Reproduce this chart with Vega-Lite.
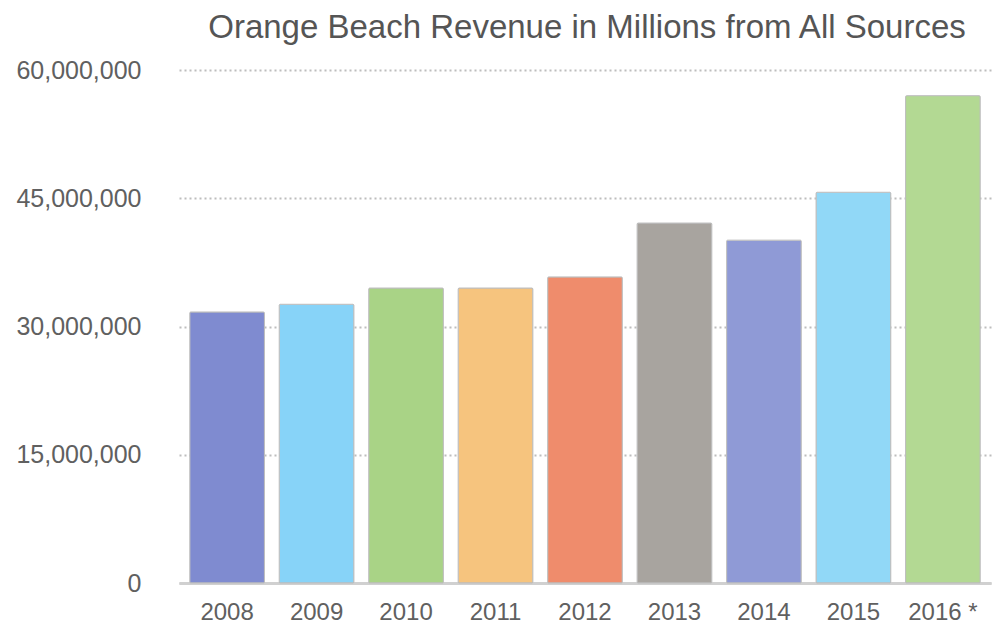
{
  "$schema": "https://vega.github.io/schema/vega-lite/v6.json",
  "width": 812,
  "height": 513,
  "autosize": {"type": "none"},
  "padding": {"left": 179, "top": 70, "right": 2, "bottom": 44},
  "background": "white",
  "title": {
    "text": "Orange Beach Revenue in Millions from All Sources",
    "font": "Liberation Sans",
    "fontSize": 33,
    "fontWeight": "normal",
    "color": "#555555",
    "anchor": "middle",
    "offset": 13,
    "dx": 2
  },
  "data": {
    "values": [
      {"year": "2008", "revenue": 31700000, "c": "#7F8BD0"},
      {"year": "2009", "revenue": 32600000, "c": "#87D3F8"},
      {"year": "2010", "revenue": 34500000, "c": "#A9D386"},
      {"year": "2011", "revenue": 34500000, "c": "#F6C47E"},
      {"year": "2012", "revenue": 35800000, "c": "#EF8C6C"},
      {"year": "2013", "revenue": 42100000, "c": "#A8A49F"},
      {"year": "2014", "revenue": 40100000, "c": "#8F9AD6"},
      {"year": "2015", "revenue": 45700000, "c": "#91D8F7"},
      {"year": "2016 *", "revenue": 57000000, "c": "#B3D993"}
    ]
  },
  "mark": {"type": "bar", "stroke": "#bdbdbd", "strokeWidth": 1, "cornerRadius": 1},
  "encoding": {
    "x": {
      "field": "year",
      "type": "nominal",
      "sort": null,
      "scale": {"paddingInner": 0.165, "paddingOuter": 0.12},
      "axis": {
        "title": null,
        "labelAngle": 0,
        "labelFont": "Liberation Sans",
        "labelFontSize": 24,
        "labelColor": "#606060",
        "labelPadding": 17,
        "ticks": false,
        "domainColor": "#d0d0d0",
        "domainWidth": 3
      }
    },
    "y": {
      "field": "revenue",
      "type": "quantitative",
      "scale": {"domain": [0, 60000000], "nice": false},
      "axis": {
        "title": null,
        "values": [0, 15000000, 30000000, 45000000, 60000000],
        "format": ",d",
        "labelFont": "Liberation Sans",
        "labelFontSize": 25,
        "labelColor": "#606060",
        "labelPadding": 38,
        "ticks": false,
        "domain": false,
        "gridColor": "#bdbdbd",
        "gridDash": [2, 3],
        "gridWidth": 2
      }
    },
    "color": {"field": "c", "type": "nominal", "scale": null, "legend": null}
  },
  "config": {"view": {"stroke": null}}
}
